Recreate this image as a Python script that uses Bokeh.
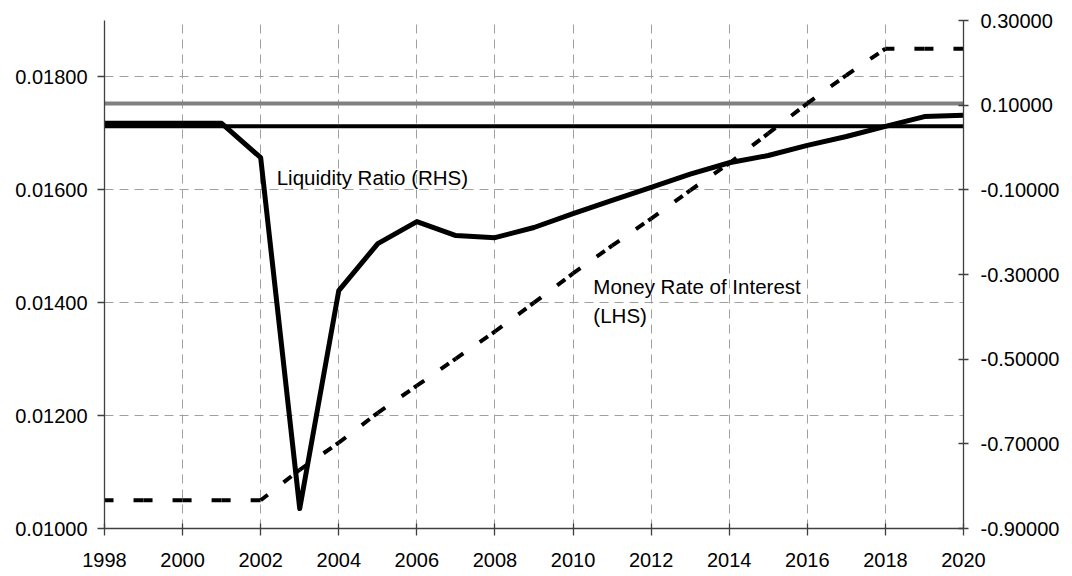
from bokeh.plotting import figure
from bokeh.models import Range1d, LinearAxis, FixedTicker, PrintfTickFormatter, Span, Label
from bokeh.embed import file_html
from bokeh.resources import INLINE

years = list(range(1998, 2021))
money_rate_lhs = [0.01050, 0.01050, 0.01050, 0.01050, 0.01050, 0.01104, 0.01152, 0.01205,
                  0.01253, 0.01301, 0.01349, 0.01400, 0.01452, 0.01501, 0.01549, 0.01599,
                  0.01647, 0.01700, 0.01753, 0.01803, 0.01850, 0.01850, 0.01850]
liquidity_rhs = [0.057, 0.057, 0.057, 0.057, -0.024, -0.853, -0.338, -0.227, -0.175, -0.208,
                 -0.213, -0.189, -0.156, -0.125, -0.094, -0.063, -0.036, -0.019, 0.005, 0.026,
                 0.050, 0.073, 0.076]
gray_level_rhs = 0.104
black_level_rhs = 0.050
x_ticks = list(range(1998, 2021, 2))
left_ticks = [0.010, 0.012, 0.014, 0.016, 0.018]
right_ticks = [-0.9, -0.7, -0.5, -0.3, -0.1, 0.1, 0.3]

FONT = "Liberation Sans"

p = figure(width=1064, height=576, output_backend="svg", toolbar_location=None,
           x_range=Range1d(1998, 2020), y_range=Range1d(0.010, 0.019),
           min_border_left=104, min_border_right=101, min_border_top=20, min_border_bottom=48)
p.extra_y_ranges = {"right": Range1d(-0.9, 0.3)}
p.outline_line_color = None
p.background_fill_color = "white"

# axes
xa = p.xaxis[0]
xa.ticker = FixedTicker(ticks=x_ticks)
ya = p.yaxis[0]
ya.ticker = FixedTicker(ticks=left_ticks)
ya.formatter = PrintfTickFormatter(format="%.5f")
ra = LinearAxis(y_range_name="right", ticker=FixedTicker(ticks=right_ticks),
                formatter=PrintfTickFormatter(format="%.5f"))
p.add_layout(ra, "right")

for ax in (xa, ya, ra):
    ax.axis_line_color = "#404040"
    ax.axis_line_width = 1.3
    ax.major_tick_line_color = "#404040"
    ax.major_tick_line_width = 1.3
    ax.minor_tick_line_color = None
    ax.major_label_text_font = FONT
    ax.major_label_text_font_size = "20px"
    ax.major_label_text_color = "black"
xa.major_tick_in = 5
xa.major_tick_out = 7
xa.major_label_standoff = 17
ya.major_tick_in = 0
ya.major_tick_out = 7
ya.major_label_standoff = 10
ra.major_tick_in = 5
ra.major_tick_out = 5
ra.major_label_standoff = 12

# grids
p.xgrid.ticker = FixedTicker(ticks=x_ticks)
p.ygrid.ticker = FixedTicker(ticks=left_ticks)
for g in (p.xgrid[0], p.ygrid[0]):
    g.grid_line_color = "#a0a0a0"
    g.grid_line_width = 1
    g.grid_line_dash = "9 6"

# horizontal reference lines
gspan = Span(location=gray_level_rhs, dimension="width", y_range_name="right",
             line_color="#808080", line_width=4, level="underlay")
bspan = Span(location=black_level_rhs, dimension="width", y_range_name="right",
             line_color="black", line_width=4, level="underlay")
p.add_layout(gspan)
p.add_layout(bspan)

# money rate (dashed, pattern restarts per segment)
seg_x = [[years[i], years[i + 1]] for i in range(len(years) - 1)]
seg_y = [[money_rate_lhs[i], money_rate_lhs[i + 1]] for i in range(len(years) - 1)]
p.multi_line(seg_x, seg_y, line_color="black", line_width=4, line_dash="9 20 10 5",
             line_cap="butt")

# liquidity ratio
p.line(years, liquidity_rhs, y_range_name="right", line_color="black", line_width=5,
       line_join="round")

# labels
p.add_layout(Label(x=2002.41, y=-0.071, y_range_name="right", text="Liquidity Ratio (RHS)",
                   text_font=FONT, text_font_size="20.5px", text_color="black",
                   text_baseline="alphabetic"))
p.add_layout(Label(x=2010.52, y=0.014287, text="Money Rate of Interest",
                   text_font=FONT, text_font_size="20.5px", text_color="black",
                   text_baseline="alphabetic"))
p.add_layout(Label(x=2010.52, y=0.013773, text="(LHS)",
                   text_font=FONT, text_font_size="20.5px", text_color="black",
                   text_baseline="alphabetic"))

open("out.html", "w").write(file_html(p, INLINE))
